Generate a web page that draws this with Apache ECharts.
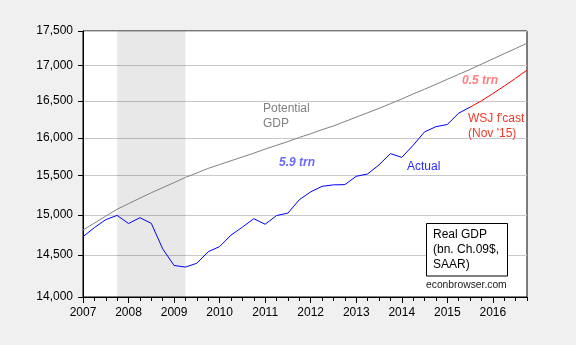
<!DOCTYPE html>
<html>
<head>
<meta charset="utf-8">
<script src="https://cdn.jsdelivr.net/npm/echarts@6/dist/echarts.min.js"></script>
<style>
html,body{margin:0;padding:0;background:#f0f0f0;}
#chart{width:576px;height:345px;}
</style>
</head>
<body>
<div id="chart"></div>
<script>
// ---- data (billions of chained 2009 $, SAAR) ----
const startYear = 2007;            // first quarter = 2007Q1
const actualGDP = [
  14726, 14839, 14939, 14992,
  14890, 14963, 14892, 14577,
  14375, 14356, 14402, 14542,
  14605, 14746, 14845, 14950,
  14881, 14990, 15021, 15190,
  15291, 15362, 15381, 15384,
  15492, 15522, 15641, 15790,
  15740, 15900, 16080, 16150,
  16180, 16334, 16417
];
const wsjForecast = [16417, 16505, 16605, 16710, 16820, 16935]; // 2015Q3 - 2016Q4
const forecastStartIndex = 34;     // 2015Q3
const potentialGDP = [
  14809, 14895, 14983, 15070,
  15140, 15210, 15280, 15345,
  15410, 15478, 15535, 15595,
  15645, 15695, 15745, 15795,
  15850, 15900, 15950, 16005,
  16055, 16110, 16160, 16220,
  16280, 16340, 16400, 16465,
  16530, 16600, 16665, 16735,
  16805, 16875, 16945, 17020,
  17095, 17170, 17245, 17321
];
const recession = [2007.75, 2009.25];
const yTicks = [14000, 14500, 15000, 15500, 16000, 16500, 17000, 17500];
const xYears = [2007, 2008, 2009, 2010, 2011, 2012, 2013, 2014, 2015, 2016];

// ---- build ----
const qTime = i => startYear + i / 4;
const quarterTicks = potentialGDP.map((_, i) => qTime(i));
const pot = potentialGDP.map((v, i) => [qTime(i), v]);
const act = actualGDP.map((v, i) => [qTime(i), v]);
const fc = wsjForecast.map((v, i) => [qTime(forecastStartIndex + i), v]);

const FONT = '"Liberation Sans", Arial, sans-serif';
const chart = echarts.init(document.getElementById('chart'), null, {renderer: 'canvas'});
const txt = (text, x, y, fill, extra) => ({
  type: 'text', z: 100,
  style: Object.assign({text, x, y, fill, font: '12px ' + FONT, verticalAlign: 'middle', align: 'left'}, extra || {})
});

chart.setOption({
  animation: false,
  backgroundColor: '#f0f0f0',
  grid: {left: 83, right: 49, top: 31, bottom: 48, show: true, backgroundColor: '#ffffff', borderColor: '#000', borderWidth: 1},
  xAxis: [{
    type: 'value', min: 2007, max: 2016.75, position: 'bottom',
    axisLine: {show: true, lineStyle: {color: '#000', width: 1}},
    axisTick: {show: true, inside: false, length: 4, customValues: quarterTicks, lineStyle: {color: '#000'}},
    axisLabel: {customValues: xYears, formatter: v => String(Math.round(v)), color: '#000', fontSize: 12, fontFamily: FONT, margin: 10},
    splitLine: {show: false}
  }, {
    type: 'value', min: 2007, max: 2016.75, position: 'bottom', offset: 0,
    axisLine: {show: false},
    axisTick: {show: true, inside: false, length: 6, customValues: xYears, lineStyle: {color: '#000'}},
    axisLabel: {show: false},
    splitLine: {show: false}
  }],
  yAxis: {
    type: 'log', min: 14000, max: 17500,
    axisLine: {show: true, lineStyle: {color: '#000', width: 1}},
    axisTick: {show: true, inside: false, length: 5, customValues: yTicks, lineStyle: {color: '#000'}},
    axisLabel: {customValues: yTicks, color: '#000', fontSize: 12, fontFamily: FONT, margin: 10,
      formatter: v => Math.round(v).toLocaleString('en-US')},
    splitLine: {show: true, lineStyle: {color: '#c8c8c8', width: 1}},
    minorTick: {show: false}
  },
  series: [{
    name: 'Potential GDP', type: 'line', data: pot, showSymbol: false, symbol: 'none',
    lineStyle: {color: '#808080', width: 1}, z: 3,
    markArea: {silent: true, itemStyle: {color: 'rgba(0,0,0,0.09)'},
      data: [[{xAxis: recession[0]}, {xAxis: recession[1]}]]}
  }, {
    name: 'Actual', type: 'line', data: act, showSymbol: false, symbol: 'none',
    lineStyle: {color: '#0000ff', width: 1}, z: 4
  }, {
    name: "WSJ f'cast", type: 'line', data: fc, showSymbol: false, symbol: 'none',
    lineStyle: {color: '#ff0000', width: 1}, z: 4
  }],
  graphic: [
    txt('Potential', 263, 109, '#808080'),
    txt('GDP', 263, 124, '#808080'),
    txt('5.9 trn', 279, 163, '#6a6aff', {font: 'italic bold 12px ' + FONT}),
    txt('Actual', 407, 167, '#2a2aff'),
    txt('0.5 trn', 462, 81, '#ff8080', {font: 'italic bold 12px ' + FONT}),
    txt("WSJ f'cast", 468, 119, '#f03a2a'),
    txt("(Nov '15)", 468, 134, '#f03a2a'),
    {type: 'rect', z: 99, shape: {x: 426.5, y: 223.5, width: 81, height: 52.5},
      style: {fill: '#fff', stroke: '#000', lineWidth: 1}},
    txt('Real GDP', 433, 235, '#000'),
    txt('(bn. Ch.09$,', 433, 250, '#000'),
    txt('SAAR)', 433, 265, '#000'),
    txt('econbrowser.com', 426, 285, '#1a1a1a', {font: '10.3px ' + FONT})
  ]
});
</script>
</body>
</html>
